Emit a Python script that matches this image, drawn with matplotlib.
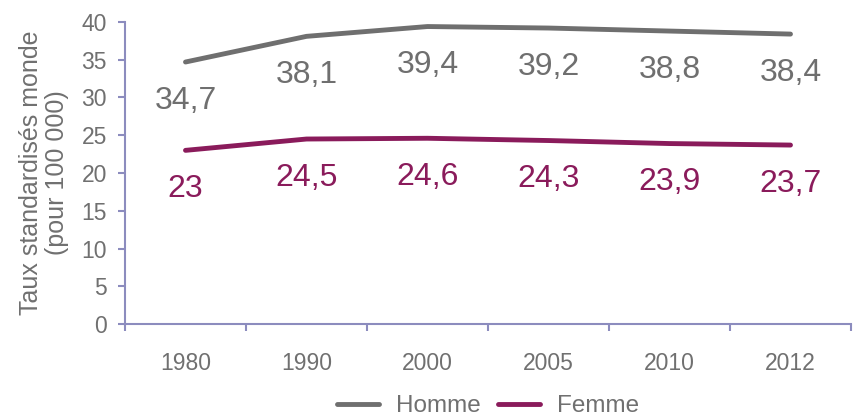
import matplotlib.pyplot as plt

years = ["1980", "1990", "2000", "2005", "2010", "2012"]
homme = [34.7, 38.1, 39.4, 39.2, 38.8, 38.4]
femme = [23, 24.5, 24.6, 24.3, 23.9, 23.7]

gray = "#6f6f6f"
purple = "#8a1b5b"
axis_col = "#8c8cbe"
text_col = "#707070"

plt.rcParams['font.family'] = ['Liberation Sans', 'DejaVu Sans']


def fmt(v):
    s = ("%.1f" % v).rstrip("0").rstrip(".")
    return s.replace(".", ",")


fig = plt.figure(figsize=(8.57, 4.16), dpi=100)
ax = fig.add_axes([125 / 857, 92 / 416, 726 / 857, 302 / 416])

x = list(range(len(years)))
ax.plot(x, homme, color=gray, linewidth=3.5, solid_capstyle="round", label="Homme")
ax.plot(x, femme, color=purple, linewidth=3.5, solid_capstyle="round", label="Femme")

for i in x:
    ax.annotate(fmt(homme[i]), (i, homme[i]), xytext=(0, -28), textcoords="offset points",
                ha="center", va="center", fontsize=23, color=gray)
    ax.annotate(fmt(femme[i]), (i, femme[i]), xytext=(0, -28), textcoords="offset points",
                ha="center", va="center", fontsize=23, color=purple)

ax.set_xlim(-0.5, len(years) - 0.5)
ax.set_ylim(0, 40)
ax.set_yticks(range(0, 41, 5))
ax.set_xticks(x)
ax.set_xticklabels(years)
ax.set_xticks([i - 0.5 for i in range(len(years) + 1)], minor=True)
ax.tick_params(axis="x", which="major", length=0, pad=20, labelsize=16.5, labelcolor=text_col)
ax.tick_params(axis="x", which="minor", length=5, color=axis_col, width=1.5)
ax.tick_params(axis="y", length=5, color=axis_col, width=1.5, labelsize=16.5, labelcolor=text_col, pad=8)

for s in ["top", "right"]:
    ax.spines[s].set_visible(False)
for s in ["left", "bottom"]:
    ax.spines[s].set_color(axis_col)
    ax.spines[s].set_linewidth(1.5)

ax.set_ylabel("Taux standardisés monde\n(pour 100 000)", fontsize=18, color=text_col, labelpad=9,
              linespacing=1.1)

leg = ax.legend(loc="center", bbox_to_anchor=(0.5, -82 / 302), ncol=2, frameon=False,
                fontsize=17.5, handlelength=1.75, columnspacing=0.7, handletextpad=0.7)
for t in leg.get_texts():
    t.set_color(text_col)

fig.savefig("out.png", dpi=100)
